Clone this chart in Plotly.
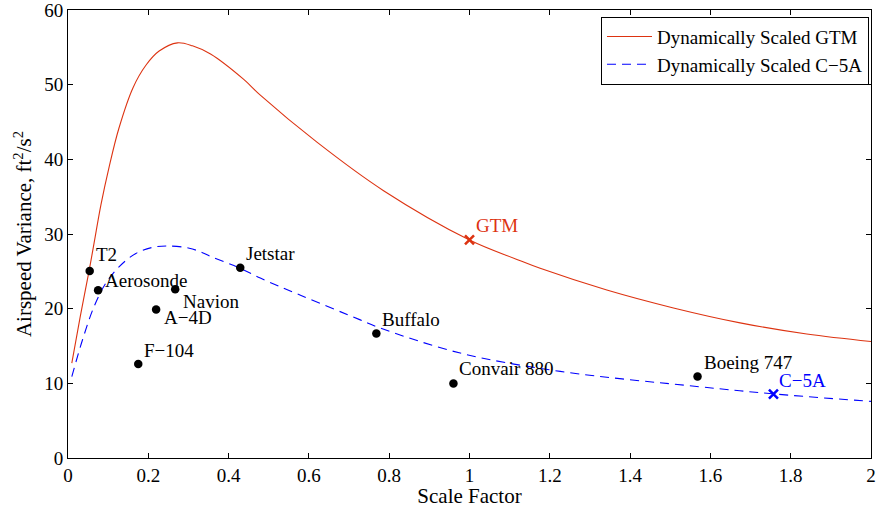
import plotly.graph_objects as go

# Dynamically scaled curves
gtm_x = [0.0095, 0.03, 0.053, 0.065, 0.082, 0.1025, 0.127, 0.162, 0.194, 0.227, 0.2726, 0.31, 0.355, 0.4377,
         0.479, 0.62, 0.786, 1.0, 1.118, 1.176, 1.342, 1.508, 1.674, 1.84, 2.0]
gtm_y = [12.7, 18.8, 25.2, 28.8, 33.9, 39.0, 44.2, 49.6, 52.6, 54.5, 55.6, 55.2, 54.1, 50.7,
         48.6, 42.3, 35.8, 29.2, 26.6, 25.4, 22.5, 20.1, 18.1, 16.6, 15.6]

c5a_x = [0.0095, 0.036, 0.065, 0.094, 0.127, 0.169, 0.21, 0.248, 0.302, 0.335, 0.355, 0.429, 0.479,
         0.579, 0.728, 0.778, 0.977, 1.226, 1.566, 1.754, 2.0]
c5a_y = [10.9, 15.8, 20.3, 23.4, 25.6, 27.4, 28.2, 28.4, 28.1, 27.5, 27.0, 25.4, 24.1,
         21.8, 18.5, 17.4, 14.05, 11.6, 9.58, 8.6, 7.58]

# Aircraft data points
aircraft = ["T2", "Aerosonde", "Navion", "A\u22124D", "F\u2212104", "Jetstar", "Buffalo", "Convair 880", "Boeing 747"]
aircraft_x = [0.054, 0.075, 0.267, 0.2195, 0.175, 0.429, 0.768, 0.960, 1.568]
aircraft_y = [25.05, 22.48, 22.6, 19.9, 12.58, 25.47, 16.68, 9.98, 10.92]
label_shift = [(4, 16), (5, 10), (6, -12), (6, -8), (4, 14), (4, 14), (4, 14), (4, 15), (4, 14)]

# Reference designs
ref_names = ["GTM", "C\u22125A"]
ref_x = [1.0, 1.757]
ref_y = [29.2, 8.56]
ref_colors = ["#DD3311", "#0000FF"]

FONT = "Liberation Serif, Times New Roman, serif"

fig = go.Figure()
fig.add_trace(go.Scatter(x=gtm_x, y=gtm_y, mode="lines", name="Dynamically Scaled GTM",
                         line=dict(color=ref_colors[0], width=1.1, shape="spline", smoothing=1.0)))
fig.add_trace(go.Scatter(x=c5a_x, y=c5a_y, mode="lines", name="Dynamically Scaled C\u22125A",
                         line=dict(color=ref_colors[1], width=1.1, dash="9px,6px", shape="spline", smoothing=1.0)))
fig.add_trace(go.Scatter(x=aircraft_x, y=aircraft_y, mode="markers", showlegend=False,
                         marker=dict(color="black", size=8.5)))
for i in range(2):
    fig.add_trace(go.Scatter(x=[ref_x[i]], y=[ref_y[i]], mode="markers", showlegend=False,
                             marker=dict(color=ref_colors[i], size=9, symbol="x-thin",
                                         line=dict(color=ref_colors[i], width=2.5))))

annotations = []
for name, x, y, (dx, dy) in zip(aircraft, aircraft_x, aircraft_y, label_shift):
    annotations.append(dict(x=x, y=y, text=name, showarrow=False, xanchor="left", yanchor="middle",
                            xshift=dx, yshift=dy, font=dict(family=FONT, size=19, color="black")))
for i in range(2):
    annotations.append(dict(x=ref_x[i], y=ref_y[i], text=ref_names[i], showarrow=False, xanchor="left",
                            yanchor="middle", xshift=4, yshift=14,
                            font=dict(family=FONT, size=19, color=ref_colors[i])))

axis_common = dict(showline=True, linecolor="black", linewidth=1, mirror="ticks", ticks="inside",
                   ticklen=5, tickcolor="black", showgrid=False, zeroline=False, automargin=False,
                   ticklabeloverflow="allow",
                   tickfont=dict(family=FONT, size=19, color="black"))

fig.update_layout(
    width=877, height=508,
    margin=dict(l=68, r=6, t=10, b=50),
    paper_bgcolor="white", plot_bgcolor="white",
    font=dict(family=FONT, size=19, color="black"),
    xaxis=dict(range=[0, 2], tick0=0, dtick=0.2,
               title=dict(text="Scale Factor", font=dict(family=FONT, size=21), standoff=2),
               **axis_common),
    yaxis=dict(range=[0, 60], tick0=0, dtick=10,
               title=dict(text="Airspeed Variance, ft<sup>2</sup>/s<sup>2</sup>",
                          font=dict(family=FONT, size=21), standoff=6),
               **axis_common),
    legend=dict(x=0.9975, xanchor="right", y=0.985, yanchor="top", bgcolor="white",
                bordercolor="black", borderwidth=1, font=dict(family=FONT, size=19),
                tracegroupgap=0, itemwidth=45),
    annotations=annotations,
    showlegend=True,
)

fig.write_html("out.html")
